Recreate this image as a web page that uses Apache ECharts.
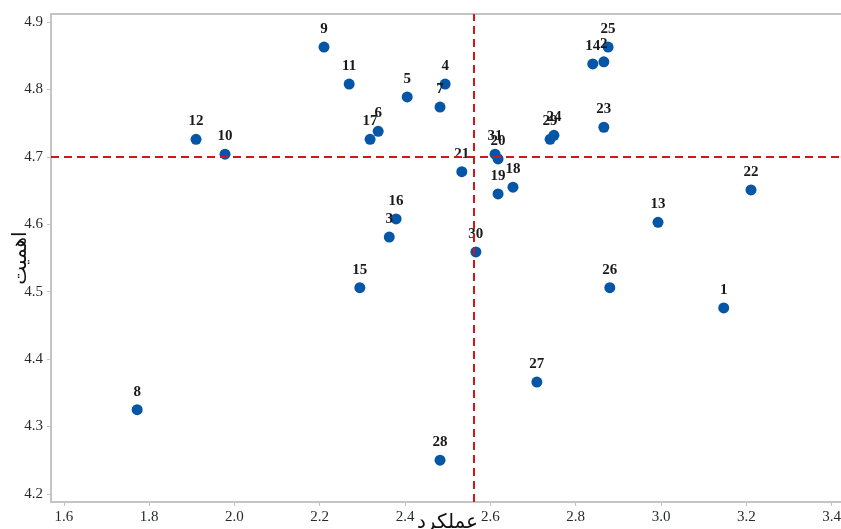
<!DOCTYPE html>
<html>
<head>
<meta charset="utf-8">
<script src="https://cdn.jsdelivr.net/npm/echarts@6/dist/echarts.min.js"></script>
<style>
    html, body {margin: 0; padding: 0; background: #fff;}
    #chart {width: 841px; height: 529px;}
</style>
</head>
<body>
<div id="chart"></div>
<script>
// شماره گویه ها
var ids = ['1', '2', '3', '4', '5', '6', '7', '8', '9', '10', '11', '12', '13', '14', '15', '16',
    '17', '18', '19', '20', '21', '22', '23', '24', '25', '26', '27', '28', '29', '30', '31'];
// عملکرد (x)
var perf = [3.147, 2.866, 2.363, 2.494, 2.405, 2.337, 2.482, 1.772, 2.210, 1.978, 2.269, 1.910, 2.993, 2.840, 2.294, 2.379,
    2.318, 2.653, 2.618, 2.618, 2.533, 3.211, 2.866, 2.749, 2.876, 2.880, 2.709, 2.482, 2.740, 2.566, 2.611];
// اهمیت (y)
var imp = [4.476, 4.841, 4.581, 4.808, 4.789, 4.738, 4.774, 4.325, 4.863, 4.704, 4.808, 4.726, 4.603, 4.838, 4.506, 4.608,
    4.726, 4.655, 4.645, 4.697, 4.678, 4.651, 4.744, 4.732, 4.863, 4.506, 4.366, 4.250, 4.726, 4.559, 4.704];

var meanPerf = 2.559;   // میانگین عملکرد
var meanImp = 4.703;    // میانگین اهمیت

var xTicks = [1.6, 1.8, 2.0, 2.2, 2.4, 2.6, 2.8, 3.0, 3.2, 3.4];
var yTicks = [4.2, 4.3, 4.4, 4.5, 4.6, 4.7, 4.8, 4.9];

var points = [];
for (var i = 0; i < ids.length; i++) {
    points.push({name: ids[i], value: [perf[i], imp[i]]});
}

var labelFont = {fontFamily: 'Liberation Serif', fontSize: 15, color: '#26292e'};
var axisLineStyle = {color: '#c4c4c4', width: 2};

var chart = echarts.init(document.getElementById('chart'));
var option = {
    animation: false,
    grid: {
        left: 51, right: -3, top: 14, bottom: 27,
        outerBoundsMode: 'none',
        containLabel: false,
        show: true,
        borderColor: '#c4c4c4',
        borderWidth: 2
    },
    xAxis: {
        type: 'value',
        min: 1.570,
        max: 3.429,
        name: 'عملکرد',
        nameLocation: 'middle',
        nameGap: 11,
        nameMoveOverlap: false,
        nameTextStyle: {fontFamily: 'DejaVu Sans', fontSize: 20, color: '#111', verticalAlign: 'top'},
        axisLine: {lineStyle: axisLineStyle},
        axisTick: {show: true, length: 4, customValues: xTicks, lineStyle: {color: '#c4c4c4'}},
        axisLabel: Object.assign({
            customValues: xTicks,
            margin: 8,
            formatter: function (v) { return v.toFixed(1); }
        }, labelFont),
        splitLine: {show: false}
    },
    yAxis: {
        type: 'value',
        min: 4.188,
        max: 4.912,
        name: 'اهمیت',
        nameLocation: 'middle',
        nameGap: 20,
        nameMoveOverlap: false,
        nameTextStyle: {fontFamily: 'DejaVu Sans', fontSize: 20, color: '#111'},
        axisLine: {show: true, lineStyle: axisLineStyle},
        axisTick: {show: true, length: 4, customValues: yTicks, lineStyle: {color: '#c4c4c4'}},
        axisLabel: Object.assign({
            customValues: yTicks,
            margin: 8,
            formatter: function (v) { return v.toFixed(1); }
        }, labelFont),
        splitLine: {show: false}
    },
    series: [{
        type: 'scatter',
        symbolSize: 11,
        itemStyle: {color: '#0656a8', opacity: 1},
        label: {
            show: true,
            position: 'top',
            distance: 5,
            formatter: '{b}',
            fontFamily: 'Liberation Serif',
            fontWeight: 'bold',
            fontSize: 15,
            color: '#1a1a1a'
        },
        data: points,
        markLine: {
            silent: true,
            symbol: 'none',
            label: {show: false},
            lineStyle: {color: '#d7141a', width: 2, type: [8, 5]},
            data: [{xAxis: meanPerf}, {yAxis: meanImp}]
        }
    }]
};
chart.setOption(option);
</script>
</body>
</html>
